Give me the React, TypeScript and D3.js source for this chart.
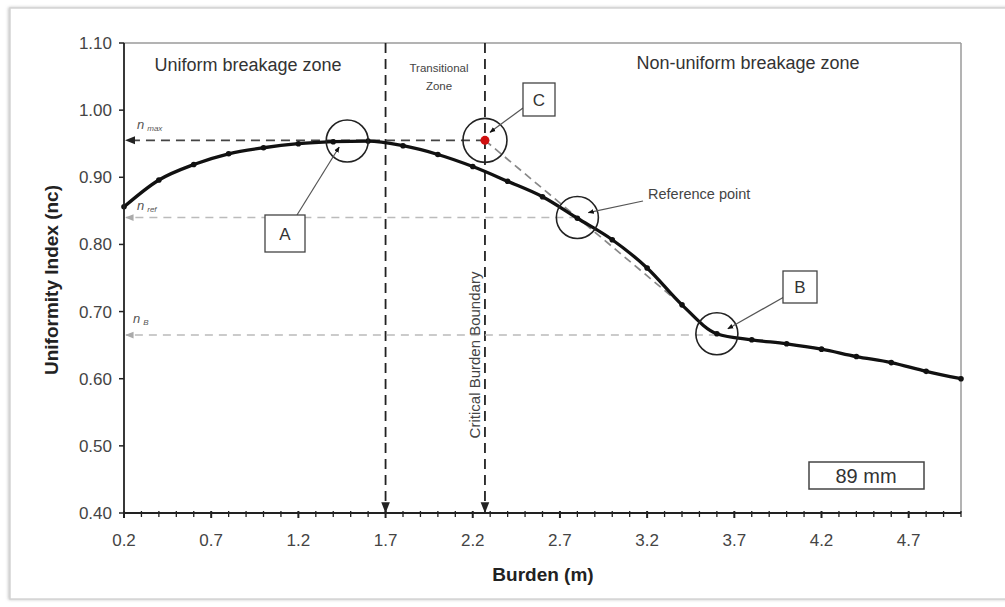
import React from "react";
import * as d3 from "d3";

// ---- data ----
const burden = [0.2, 0.4, 0.6, 0.8, 1.0, 1.2, 1.4, 1.6, 1.8, 2.0, 2.2, 2.4, 2.6, 2.8, 3.0, 3.2, 3.4, 3.6, 3.8, 4.0, 4.2, 4.4, 4.6, 4.8, 5.0];
const uniformity = [0.856, 0.896, 0.919, 0.935, 0.944, 0.950, 0.953, 0.954, 0.947, 0.934, 0.916, 0.894, 0.871, 0.839, 0.807, 0.765, 0.710, 0.667, 0.658, 0.652, 0.644, 0.633, 0.624, 0.611, 0.600];
const xTickValues = [0.2, 0.7, 1.2, 1.7, 2.2, 2.7, 3.2, 3.7, 4.2, 4.7];
const yTickValues = [0.4, 0.5, 0.6, 0.7, 0.8, 0.9, 1.0, 1.1];
const boundaries = [1.7, 2.27];
const levelNames = ["max", "ref", "B"];
const levelValues = [0.955, 0.84, 0.665];
const pointNames = ["A", "C", "Reference point", "B"];
const pointX = [1.48, 2.27, 2.8, 3.6];
const pointY = [0.954, 0.955, 0.84, 0.667];

const W = 1005;
const H = 607;
const M = { left: 124, right: 961, top: 43, bottom: 513 };

export default function App() {
  const x = d3.scaleLinear().domain([0.2, 5.0]).range([M.left, M.right]);
  const y = d3.scaleLinear().domain([0.4, 1.1]).range([M.bottom, M.top]);
  const pts = burden.map((b, i) => [b, uniformity[i]] as [number, number]);
  const line = d3
    .line<[number, number]>()
    .x((d) => x(d[0]))
    .y((d) => y(d[1]))
    .curve(d3.curveMonotoneX);
  const minor = d3.range(2, 51).map((k) => k / 10);
  const font = "'Liberation Sans', Arial, sans-serif";

  const A = { x: x(pointX[0]), y: y(pointY[0]) };
  const C = { x: x(pointX[1]), y: y(pointY[1]) };
  const R = { x: x(pointX[2]), y: y(pointY[2]) };
  const B = { x: x(pointX[3]), y: y(pointY[3]) };

  // tangent line from C through reference point
  const slope = (pointY[2] - pointY[1]) / (pointX[2] - pointX[1]);
  const tEndX = 3.35;
  const tEndY = pointY[1] + slope * (tEndX - pointX[1]);

  const levelColors = ["#444", "#bbb", "#bbb"];
  const levelEnds = [C.x, R.x, B.x];

  return (
    <svg
      width={W}
      height={H}
      style={{ position: "absolute", left: 0, top: 0, background: "#fff" }}
      fontFamily={font}
    >
      <defs>
        <marker id="arrDark" viewBox="0 0 10 10" refX="9" refY="5" markerWidth="6" markerHeight="6" orient="auto-start-reverse">
          <path d="M0,1 L10,5 L0,9 z" fill="#222" />
        </marker>
        <marker id="arrGray" viewBox="0 0 10 10" refX="9" refY="5" markerWidth="6" markerHeight="6" orient="auto-start-reverse">
          <path d="M0,1 L10,5 L0,9 z" fill="#aaa" />
        </marker>
        <marker id="arrSmall" viewBox="0 0 10 10" refX="9" refY="5" markerWidth="5" markerHeight="5" orient="auto">
          <path d="M0,1 L10,5 L0,9 z" fill="#111" />
        </marker>
        <filter id="shadow" x="-5%" y="-5%" width="110%" height="110%">
          <feDropShadow dx="-1" dy="0" stdDeviation="1.5" floodColor="#999" floodOpacity="0.6" />
        </filter>
      </defs>

      {/* outer screenshot frame */}
      <rect x={10} y={8} width={1010} height={591} fill="#fff" stroke="#d4d4d4" strokeWidth={1.5} filter="url(#shadow)" />

      {/* plot frame top/right */}
      <line x1={M.left} x2={M.right} y1={M.top} y2={M.top} stroke="#9a9a9a" strokeWidth={1.5} />
      <line x1={M.right} x2={M.right} y1={M.top} y2={M.bottom} stroke="#9a9a9a" strokeWidth={1.5} />

      {/* zone boundaries */}
      {boundaries.map((b) => (
        <line key={b} x1={x(b)} x2={x(b)} y1={M.top} y2={M.bottom - 1} stroke="#222" strokeWidth={1.8} strokeDasharray="10,6" markerEnd="url(#arrDark)" />
      ))}

      {/* horizontal level lines */}
      {levelValues.map((v, i) => (
        <line
          key={levelNames[i]}
          x1={levelEnds[i]}
          x2={M.left + 2}
          y1={y(v)}
          y2={y(v)}
          stroke={levelColors[i]}
          strokeWidth={i === 0 ? 1.7 : 1.4}
          strokeDasharray={i === 0 ? "9,6" : "8,6"}
          markerEnd={i === 0 ? "url(#arrDark)" : "url(#arrGray)"}
        />
      ))}
      {levelNames.map((n, i) => (
        <text key={n} x={M.left + (i === 2 ? 9 : 13)} y={y(levelValues[i]) - (i === 0 ? 11 : i === 1 ? 8 : 12)} fill="#555" fontSize={13} fontStyle="italic">
          n<tspan fontSize={8} dx={3} dy={2}>{n}</tspan>
        </text>
      ))}

      {/* tangent line C -> reference */}
      <line x1={C.x} y1={C.y} x2={x(tEndX)} y2={y(tEndY)} stroke="#888" strokeWidth={1.7} strokeDasharray="8,5" />

      {/* curve */}
      <path d={line(pts) || ""} fill="none" stroke="#111" strokeWidth={3.3} />
      {pts.map((p, i) => (
        <circle key={i} cx={x(p[0])} cy={y(p[1])} r={2.8} fill="#111" />
      ))}

      {/* point C */}
      <circle cx={C.x} cy={C.y} r={4.5} fill="#d01010" />

      {/* annotation circles */}
      {[A, C, R, B].map((p, i) => (
        <circle key={pointNames[i]} cx={p.x} cy={p.y} r={i === 1 ? 22 : 21} fill="none" stroke="#222" strokeWidth={1.6} />
      ))}

      {/* leader lines */}
      <line x1={297} y1={215} x2={A.x - 8} y2={A.y + 6} stroke="#555" strokeWidth={1.2} markerEnd="url(#arrSmall)" />
      <line x1={523} y1={108} x2={C.x + 5} y2={C.y - 8} stroke="#555" strokeWidth={1.2} markerEnd="url(#arrSmall)" />
      <line x1={643} y1={201} x2={R.x + 11} y2={R.y - 5} stroke="#555" strokeWidth={1.2} markerEnd="url(#arrSmall)" />
      <line x1={784} y1={297} x2={B.x + 11} y2={B.y - 5} stroke="#555" strokeWidth={1.2} markerEnd="url(#arrSmall)" />

      {/* label boxes */}
      <rect x={265} y={215} width={40} height={37} fill="#fff" stroke="#444" strokeWidth={1.3} />
      <text x={285} y={240} textAnchor="middle" fontSize={17} fill="#333">{pointNames[0]}</text>
      <rect x={523} y={83} width={32} height={33} fill="#fff" stroke="#444" strokeWidth={1.3} />
      <text x={539} y={106} textAnchor="middle" fontSize={17} fill="#333">{pointNames[1]}</text>
      <rect x={783} y={271} width={34} height={32} fill="#fff" stroke="#444" strokeWidth={1.3} />
      <text x={800} y={293} textAnchor="middle" fontSize={17} fill="#333">{pointNames[3]}</text>
      <text x={648} y={199} fontSize={14.5} fill="#444">{pointNames[2]}</text>

      {/* zone labels */}
      <text x={248} y={71} textAnchor="middle" fontSize={18} fill="#333">Uniform breakage zone</text>
      <text x={748} y={69} textAnchor="middle" fontSize={18} fill="#333">Non-uniform breakage zone</text>
      <text x={439} y={72} textAnchor="middle" fontSize={11.5} fill="#444">Transitional</text>
      <text x={439} y={90} textAnchor="middle" fontSize={11.5} fill="#444">Zone</text>
      <text transform={`translate(480,355) rotate(-90)`} textAnchor="middle" fontSize={15} fill="#444">Critical Burden Boundary</text>

      {/* 89 mm box */}
      <rect x={809} y={462} width={115} height={27} fill="#fff" stroke="#444" strokeWidth={1.5} />
      <text x={866} y={483} textAnchor="middle" fontSize={20} fill="#333">89 mm</text>

      {/* axes */}
      <line x1={M.left} x2={M.left} y1={M.top} y2={M.bottom} stroke="#222" strokeWidth={1.8} />
      <line x1={M.left} x2={M.right} y1={M.bottom} y2={M.bottom} stroke="#222" strokeWidth={1.8} />
      {yTickValues.map((v) => (
        <g key={v}>
          <line x1={M.left - 5} x2={M.left} y1={y(v)} y2={y(v)} stroke="#222" strokeWidth={1.5} />
          <text x={M.left - 12} y={y(v)} dy="0.35em" textAnchor="end" fontSize={17} fill="#444">
            {v.toFixed(2)}
          </text>
        </g>
      ))}
      {minor.map((v) => {
        const major = xTickValues.some((t) => Math.abs(t - v) < 1e-6);
        return (
          <line key={v} x1={x(v)} x2={x(v)} y1={M.bottom - 2} y2={M.bottom + (major ? 5 : 4)} stroke="#222" strokeWidth={major ? 2 : 1.3} />
        );
      })}
      {xTickValues.map((v) => (
        <text key={v} x={x(v)} y={546} textAnchor="middle" fontSize={17} fill="#444">
          {v.toFixed(1)}
        </text>
      ))}

      {/* axis titles */}
      <text x={543} y={581} textAnchor="middle" fontSize={19} fontWeight="bold" fill="#222">Burden (m)</text>
      <text transform={`translate(58,280) rotate(-90)`} textAnchor="middle" fontSize={19} fontWeight="bold" fill="#222">
        Uniformity Index (nc)
      </text>
    </svg>
  );
}
